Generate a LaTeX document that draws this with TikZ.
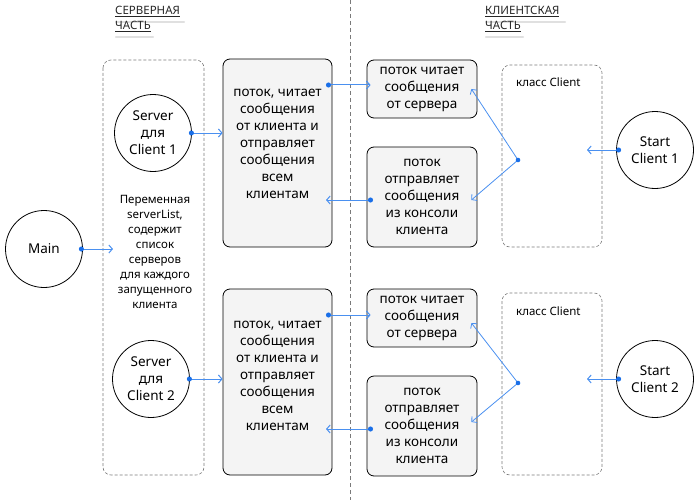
\documentclass[tikz,border=0pt]{standalone}
\usepackage{fontspec}
\setmainfont{Noto Sans}
\usepackage{tikz}
\usetikzlibrary{arrows.meta}
\definecolor{linkblue}{HTML}{4A90F0}
\definecolor{dotblue}{HTML}{1A6FE8}
\definecolor{boxgray}{HTML}{F4F4F4}
\definecolor{dashgray}{HTML}{7A7A7A}
\newcommand{\boxfont}{\fontsize{13.5}{17}\selectfont}
\newcommand{\notefont}{\fontsize{11.5}{15}\selectfont}
\tikzstyle{actor}=[circle, draw, line width=0.8pt, minimum size=77pt, inner sep=0, align=center, font=\boxfont]
\tikzstyle{thread}=[draw, fill=boxgray, rounded corners=7pt, line width=0.8pt, inner sep=0, align=center, font=\boxfont]
\tikzstyle{group}=[draw=dashgray, dash pattern=on 3pt off 2pt, rounded corners=8pt, line width=0.6pt]
\tikzstyle{link}=[draw=linkblue, line width=1pt, {Circle[length=5pt, color=dotblue]}-{Straight Barb[length=3.5pt, width=8pt]}]
\tikzstyle{fork}=[draw=linkblue, line width=0.8pt, -{Straight Barb[length=3.5pt, width=8pt]}]
\tikzstyle{header}=[anchor=north west, align=left, font=\notefont, text=black!85, inner sep=0]
\tikzstyle{shade}=[black!12, line width=2.5pt, line cap=round]
\tikzstyle{diagram}=[x=1pt, y=-1pt]

\begin{document}
\begin{tikzpicture}[diagram]
    \useasboundingbox (0,0) rectangle (700,500);
    \draw[dashgray, dash pattern=on 4pt off 3pt, line width=0.7pt] (350,0) -- (350,500);
    % headers with a soft shadow under the lines
    \draw[shade] (116,22) -- (184,22);
    \draw[shade] (116,37) -- (153,37);
    \draw[shade] (486,22) -- (565,22);
    \draw[shade] (486,37) -- (523,37);
    \node[header] (hsrv) at (115,6) {\underline{СЕРВЕРНАЯ}\\\underline{ЧАСТЬ}};
    \node[header] (hcli) at (485,6) {\underline{КЛИЕНТСКАЯ}\\\underline{ЧАСТЬ}};

    % server side
    \node[actor] (main) at (44,249) {Main};
    \draw[group] (103,60) rectangle (204,475);
    \node[actor] (srv1) at (153,133) {Server\\для\\Client 1};
    \node[actor] (srv2) at (151,379) {Server\\для\\Client 2};
    \node[font=\notefont, align=center] (list) at (155,252) {Переменная\\serverList,\\содержит\\список\\серверов\\для каждого\\запущенного\\клиента};
    \node[thread, minimum width=109, minimum height=188] (thr1) at (277.5,153) {};
    \node[font=\boxfont, align=center] (thr1txt) at (277.5,144) {поток, читает\\сообщения\\от клиента и\\отправляет\\сообщения\\всем\\клиентам};
    \node[thread, minimum width=109, minimum height=186] (thr2) at (277.5,382) {};
    \node[font=\boxfont, align=center] (thr2txt) at (277.5,376) {поток, читает\\сообщения\\от клиента и\\отправляет\\сообщения\\всем\\клиентам};

    % client side
    \node[thread, minimum width=110, minimum height=58] (rd1) at (422,89) {поток читает\\сообщения\\от сервера};
    \node[thread, minimum width=110, minimum height=100] (wr1) at (422,197) {поток\\отправляет\\сообщения\\из консоли\\клиента};
    \node[thread, minimum width=110, minimum height=58] (rd2) at (422,318) {поток читает\\сообщения\\от сервера};
    \node[thread, minimum width=110, minimum height=100] (wr2) at (422,426) {поток\\отправляет\\сообщения\\из консоли\\клиента};
    \draw[group] (502,65) rectangle (602,247);
    \draw[group] (502,293) rectangle (602,475);
    \node[anchor=west, font=\notefont, inner sep=0] (cls1) at (516,82) {класс Client};
    \node[anchor=west, font=\notefont, inner sep=0] (cls2) at (516,311) {класс Client};
    \node[actor] (st1) at (655,150) {Start\\Client 1};
    \node[actor] (st2) at (655,379) {Start\\Client 2};

    \coordinate (listin) at (113,249);
    \coordinate (thr1out) at (326,85);
    \coordinate (thr1in) at (326,200);
    \coordinate (wr1out) at (373,200);
    \coordinate (thr2out) at (326,315);
    \coordinate (thr2in) at (326,429);
    \coordinate (wr2out) at (373,429);
    \coordinate (j1) at (518,160);
    \coordinate (j2) at (518,383);
    \coordinate (c1in) at (587,150);
    \coordinate (c2in) at (587,379);

    \draw[link] ([xshift=-4pt]main.east) -- (listin);
    \draw[link] ([xshift=-3pt]srv1.east) -- (srv1.east -| thr1.west);
    \draw[link] ([xshift=-3pt]srv2.east) -- (srv2.east -| thr2.west);
    \draw[link] (thr1out) -- ([xshift=4pt]thr1out -| rd1.west);
    \draw[link] (thr2out) -- ([xshift=4pt]thr2out -| rd2.west);
    \draw[link] (wr1out) -- (thr1in);
    \draw[link] (wr2out) -- (thr2in);
    \draw[fork] (j1) -- ([xshift=-6pt]rd1.east);
    \draw[fork] (j1) -- ([xshift=-6pt, yshift=-3pt]wr1.east);
    \draw[fork] (j2) -- ([xshift=-6pt, yshift=-5pt]rd2.east);
    \draw[fork] (j2) -- ([xshift=-6pt, yshift=4pt]wr2.east);
    \fill[dotblue] (j1) circle (2.3pt);
    \fill[dotblue] (j2) circle (2.3pt);
    \draw[link] ([xshift=5pt]st1.west) -- (c1in);
    \draw[link] ([xshift=5pt]st2.west) -- (c2in);
\end{tikzpicture}
\end{document}
